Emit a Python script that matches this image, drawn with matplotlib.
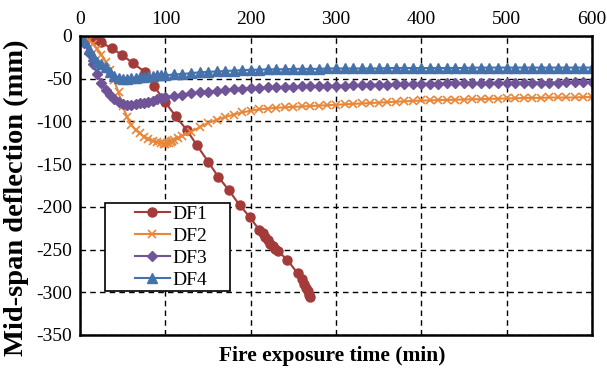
import matplotlib.pyplot as plt
from matplotlib.patches import Rectangle

# DF1
t1 = [0, 10, 17, 24, 37, 49, 62, 76, 87, 99.5, 112, 125, 137, 150, 162, 174, 187, 199,
      210, 214, 217, 220, 223, 226, 229, 232, 243, 255, 260, 263, 265, 267, 268, 269]
d1 = [0, 0, -3, -7, -14.5, -22, -32, -42, -59, -77, -94, -110, -128, -147, -165, -180, -198, -212,
      -227, -231, -235, -239, -243, -246, -249, -252, -262, -278, -284, -290, -295, -299, -303, -305]

# DF2
t2 = [0, 5, 10, 15, 20, 25, 30, 35, 40, 45, 50, 55, 60, 65, 70, 75, 80, 85, 90, 95,
      98, 100, 102, 104, 106, 108, 110, 115, 120,
      130, 140, 150, 160, 170, 180, 190, 200, 210, 220, 230, 240, 250, 260, 270, 280, 290, 300,
      310, 320, 330, 340, 350, 360, 370, 380, 390, 400, 410, 420, 430, 440, 450, 460, 470, 480,
      490, 500, 510, 520, 530, 540, 550, 560, 570, 580, 590, 600]
d2 = [0, -2, -5, -9, -15, -22, -30, -40, -52, -66, -82, -95, -104, -110, -114, -118, -121, -123, -124.5, -125.5,
      -126, -126, -125.5, -125, -124, -123, -122, -120, -117,
      -112, -107, -102, -98, -95, -92, -89.5, -87.5, -86, -85, -84, -83.5, -83, -82.5, -82, -81.5, -81, -80.5,
      -80, -79.5, -79, -78.5, -78, -77.5, -77, -76.5, -76, -75.5, -75.5, -75, -75, -74.5, -74.5, -74, -74, -73.5,
      -73.5, -73, -73, -72.5, -72.5, -72.5, -72, -72, -72, -72, -71.5, -71.5]

# DF3 and DF4 share the same time steps
t34 = [0, 5, 10, 15, 20, 25, 30, 35, 40, 45, 50, 55, 60, 65, 70, 75, 80, 85, 90, 95, 100,
       110, 120, 130, 140, 150, 160, 170, 180, 190, 200, 210, 220, 230, 240, 250, 260, 270, 280, 290, 300,
       310, 320, 330, 340, 350, 360, 370, 380, 390, 400, 410, 420, 430, 440, 450, 460, 470, 480, 490, 500,
       510, 520, 530, 540, 550, 560, 570, 580, 590, 600]
d3 = [0, -8, -20, -33, -45, -55, -63, -69, -74, -77, -80, -81, -81, -80, -79, -78, -77, -76, -74, -73, -72,
      -70, -68.5, -67, -66, -65, -64, -63, -62.5, -61.5, -61, -60.5, -60, -60, -59.5, -59.5, -59, -59, -58.5, -58.5, -58,
      -58, -57.5, -57.5, -57, -57, -57, -56.5, -56.5, -56.5, -56, -56, -56, -55.5, -55.5, -55.5, -55.5, -55, -55, -55, -55,
      -55, -54.5, -54.5, -54.5, -54.5, -54.5, -54, -54, -54, -54]
d4 = [0, -6, -15, -24, -30, -33, -36, -42, -47, -49, -50, -50, -49, -49, -48, -48, -47, -47, -46, -46, -46,
      -45, -44.5, -43.5, -42.5, -42, -41.5, -41, -40.5, -40, -39.5, -39.5, -39, -39, -39, -38.5, -38.5, -38.5, -38.5, -38, -38,
      -38, -38, -38, -38, -38, -37.5, -37.5, -37.5, -37.5, -37.5, -37.5, -37.5, -37.5, -37.5, -37.5, -37, -37, -37, -37, -37,
      -37, -37, -37, -37, -37, -37, -37, -37, -37, -37]

plt.rcParams['font.family'] = 'Liberation Serif'
plt.rcParams['axes.unicode_minus'] = False

fig = plt.figure(figsize=(6.07, 3.73), dpi=100)
ax = fig.add_axes([0.132, 0.102, 0.843, 0.8015])

ax.plot(t1, d1, marker='o', ms=6.5, color='#A23B39', lw=1.5, label='DF1')
ax.plot(t2, d2, marker='x', ms=6, mew=1.2, color='#E8873A', lw=1.5, label='DF2')
ax.plot(t34, d3, marker='D', ms=5, color='#6F5597', lw=1.5, label='DF3')
ax.plot(t34, d4, marker='^', ms=7, color='#4672AC', lw=1.5, label='DF4')

ax.set_xlim(0, 600)
ax.set_ylim(-350, 0)
ax.set_xticks(range(0, 601, 100))
ax.set_yticks(range(-350, 1, 50))
ax.xaxis.tick_top()
ax.tick_params(labelsize=14, length=0, pad=6)
ax.grid(True, color='black', linestyle=(0, (4, 3)), lw=1)

for s in ax.spines.values():
    s.set_linewidth(1.8)

ax.set_xlabel('Fire exposure time (min)', fontsize=15.5, fontweight='bold', va='center')
ax.xaxis.set_label_coords(0.493, -0.07)
ax.set_ylabel('Mid-span deflection (mm)', fontsize=20.5, fontweight='bold', va='center')
ax.yaxis.set_label_coords(-0.125, 0.46)

# legend box
ax.add_patch(Rectangle((0.049, 0.147), 0.244, 0.294, transform=ax.transAxes, facecolor='white',
                       edgecolor='black', lw=1.2, zorder=4))
leg = ax.legend(loc='center', bbox_to_anchor=(0.178, 0.294), fontsize=14, frameon=False,
                handlelength=1.8, borderpad=0, labelspacing=0.22, handletextpad=0.15)
leg.set_zorder(5)

fig.savefig('out.png', dpi=100)
